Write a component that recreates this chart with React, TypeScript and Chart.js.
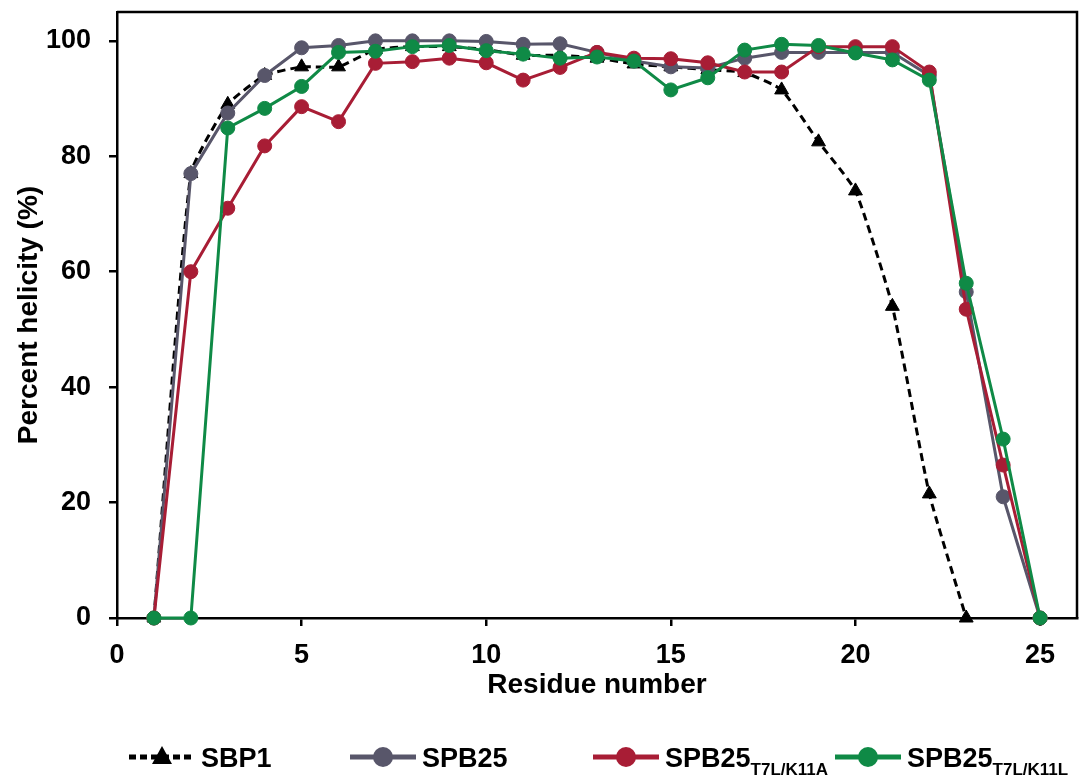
import React, { useEffect, useRef } from "react";
import { Chart, registerables } from "chart.js";

Chart.register(...registerables);

// ---- data ----
const residues = [1, 2, 3, 4, 5, 6, 7, 8, 9, 10, 11, 12, 13, 14, 15, 16, 17, 18, 19, 20, 21, 22, 23, 24, 25];
const sbp1 = [0, 77, 89, 94, 95.5, 95.5, 98.5, 99, 99, 98.5, 97.5, 97.5, 97, 96, 95.5, 95, 94.5, 91.5, 82.5, 74, 54, 21.5, 0];
const spb25 = [0, 77, 87.5, 94, 98.8, 99.2, 100, 100, 100, 99.9, 99.4, 99.5, 98, 96.5, 95.5, 95.3, 97, 98, 98, 98, 98, 94, 56.5, 21, 0];
const spb25K11A = [0, 60, 71, 81.8, 88.6, 86, 96.1, 96.4, 97, 96.2, 93.2, 95.4, 98, 97, 96.9, 96.2, 94.6, 94.6, 99, 99, 99, 94.6, 53.5, 26.5, 0];
const spb25K11L = [0, 0, 84.9, 88.3, 92.1, 98, 98.2, 99, 99.2, 98.3, 97.7, 97, 97.2, 96.5, 91.5, 93.6, 98.4, 99.4, 99.2, 97.9, 96.7, 93.2, 58, 31, 0];

const seriesNames = ["SBP1", "SPB25", "SPB25", "SPB25"];
const seriesSubs = ["", "", "T7L/K11A", "T7L/K11L"];
const seriesColors = ["#000000", "#58566a", "#a81d35", "#0f8a46"];

const xTicks = [0, 5, 10, 15, 20, 25];
const yTicks = [0, 20, 40, 60, 80, 100];

const xTitle = "Residue number";
const yTitle = "Percent helicity (%)";

const FONT = "'Liberation Sans', Arial, sans-serif";

const toPoints = (vals: number[]) => vals.map((v, i) => ({ x: residues[i], y: v }));

const frameAndLegend = {
  id: "frameAndLegend",
  afterDraw(chart: any) {
    const ctx = chart.ctx as CanvasRenderingContext2D;
    const a = chart.chartArea;
    ctx.save();
    // frame top/right
    ctx.strokeStyle = "#000";
    ctx.lineWidth = 2.5;
    ctx.beginPath();
    ctx.moveTo(a.left, a.top);
    ctx.lineTo(a.right, a.top);
    ctx.lineTo(a.right, a.bottom);
    ctx.stroke();

    // legend
    const starts = [129, 350, 593, 835];
    const ly = 757;
    const lineLen = 66;
    chart.data.datasets.forEach((ds: any, i: number) => {
      const x0 = starts[i];
      const col = seriesColors[i];
      ctx.strokeStyle = col;
      ctx.fillStyle = col;
      ctx.lineWidth = 5;
      if (i === 0) ctx.setLineDash([7, 4]);
      else ctx.setLineDash([]);
      ctx.beginPath();
      ctx.moveTo(x0, ly);
      ctx.lineTo(x0 + lineLen, ly);
      ctx.stroke();
      ctx.setLineDash([]);
      const cx = x0 + lineLen / 2;
      if (i === 0) {
        ctx.beginPath();
        ctx.moveTo(cx, ly - 11);
        ctx.lineTo(cx + 10, ly + 7);
        ctx.lineTo(cx - 10, ly + 7);
        ctx.closePath();
        ctx.fill();
      } else {
        ctx.beginPath();
        ctx.arc(cx, ly, 10, 0, Math.PI * 2);
        ctx.fill();
      }
      ctx.fillStyle = "#000";
      ctx.textAlign = "left";
      ctx.textBaseline = "alphabetic";
      ctx.font = `bold 27px ${FONT}`;
      const tx = x0 + lineLen + 6;
      ctx.fillText(seriesNames[i], tx, ly + 10);
      const w = ctx.measureText(seriesNames[i]).width;
      if (seriesSubs[i]) {
        ctx.font = `bold 17px ${FONT}`;
        ctx.fillText(seriesSubs[i], tx + w, ly + 18);
      }
    });
    ctx.restore();
  },
};

export default function App() {
  const ref = useRef<HTMLCanvasElement>(null);

  useEffect(() => {
    if (!ref.current) return;
    const chart = new Chart(ref.current, {
      type: "line",
      data: {
        datasets: [
          {
            label: seriesNames[0],
            data: toPoints(sbp1),
            borderColor: seriesColors[0],
            backgroundColor: seriesColors[0],
            borderWidth: 3,
            borderDash: [8, 5],
            pointStyle: "triangle",
            pointRadius: 8,
            pointBorderWidth: 1,
            tension: 0.15,
            order: 4,
            clip: false,
          },
          {
            label: seriesNames[1],
            data: toPoints(spb25),
            borderColor: seriesColors[1],
            backgroundColor: seriesColors[1],
            borderWidth: 3,
            pointRadius: 7,
            pointBorderWidth: 1,
            tension: 0,
            order: 3,
            clip: false,
          },
          {
            label: seriesNames[2] + " " + seriesSubs[2],
            data: toPoints(spb25K11A),
            borderColor: seriesColors[2],
            backgroundColor: seriesColors[2],
            borderWidth: 3,
            pointRadius: 7,
            pointBorderWidth: 1,
            tension: 0,
            order: 2,
            clip: false,
          },
          {
            label: seriesNames[3] + " " + seriesSubs[3],
            data: toPoints(spb25K11L),
            borderColor: seriesColors[3],
            backgroundColor: seriesColors[3],
            borderWidth: 3,
            pointRadius: 7,
            pointBorderWidth: 1,
            tension: 0,
            order: 1,
            clip: false,
          },
        ],
      },
      options: {
        responsive: false,
        animation: false,
        layout: { padding: { left: 0, right: 9, top: 12, bottom: 70 } },
        plugins: {
          legend: { display: false },
          tooltip: { enabled: false },
        },
        scales: {
          x: {
            type: "linear",
            min: 0,
            max: 26,
            afterFit: (s: any) => {
              s.height = 90;
              s.paddingLeft = 0;
              s.paddingRight = 0;
            },
            afterBuildTicks: (s: any) => {
              s.ticks = xTicks.map((v) => ({ value: v }));
            },
            ticks: {
              color: "#000",
              font: { family: FONT, size: 27, weight: "bold" },
              padding: 13,
              maxRotation: 0,
            },
            grid: {
              display: true,
              drawOnChartArea: false,
              drawTicks: true,
              tickLength: 8,
              color: "#000",
              lineWidth: 2.5,
            },
            border: { display: true, color: "#000", width: 2.5 },
            title: {
              display: true,
              text: xTitle,
              color: "#000",
              font: { family: FONT, size: 28, weight: "bold" },
              padding: { top: 0, bottom: 6 },
            },
          },
          y: {
            type: "linear",
            min: 0,
            max: 105,
            afterFit: (s: any) => {
              s.width = 117;
              s.paddingTop = 0;
              s.paddingBottom = 0;
            },
            afterBuildTicks: (s: any) => {
              s.ticks = yTicks.map((v) => ({ value: v }));
            },
            ticks: {
              color: "#000",
              font: { family: FONT, size: 27, weight: "bold" },
              padding: 18,
            },
            grid: {
              display: true,
              drawOnChartArea: false,
              drawTicks: true,
              tickLength: 8,
              color: "#000",
              lineWidth: 2.5,
            },
            border: { display: true, color: "#000", width: 2.5 },
            title: {
              display: true,
              text: yTitle,
              color: "#000",
              font: { family: FONT, size: 28, weight: "bold" },
              padding: { top: 12, bottom: 0 },
            },
          },
        },
      },
      plugins: [frameAndLegend],
    } as any);
    return () => chart.destroy();
  }, []);

  return (
    <div style={{ position: "fixed", left: 0, top: 0, width: 1086, height: 778, background: "#fff" }}>
      <canvas ref={ref} width={1086} height={778} style={{ display: "block" }} />
    </div>
  );
}
